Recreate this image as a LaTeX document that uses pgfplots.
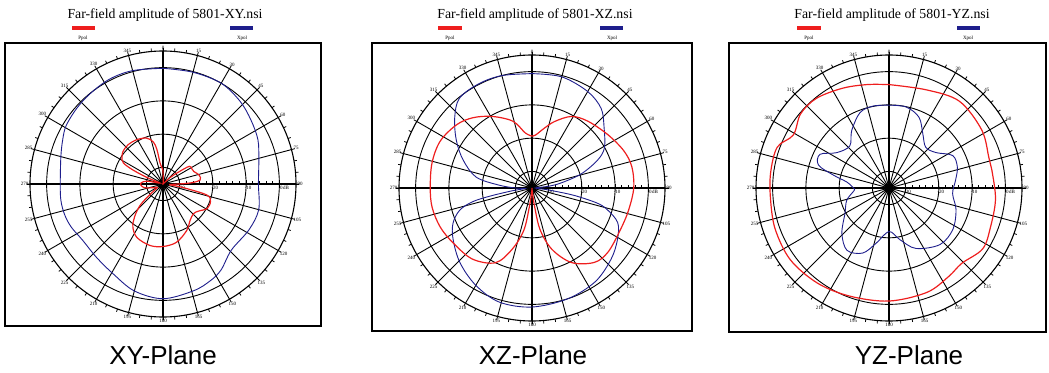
\documentclass[border=0pt]{standalone}
\usepackage{pgfplots}
\pgfplotsset{compat=1.18}
\usepgfplotslibrary{polar}
\usepackage{fontspec}
\setmainfont{Liberation Serif}
\newfontfamily\arial{Liberation Sans}
\definecolor{ppol}{RGB}{238,30,30}
\definecolor{xpol}{RGB}{30,30,140}
\pgfplotsset{
  farfield/.style={
    width=266pt, height=266pt, scale only axis,
    anchor=center,
    xmin=0, xmax=360, ymin=0, ymax=40,
    xtick={0,15,...,345},
    xticklabels={90,75,60,45,30,15,0,345,330,315,300,285,270,255,240,225,210,195,180,165,150,135,120,105},
    minor x tick num=2,
    ytick={5,15,25,35},
    yticklabels={-30,-20,-10,\makebox[0pt]{0}\rlap{\,\,dB}},
    minor y tick num=4,
    grid=major,
    major grid style={black, line width=0.9pt},
    axis line style={black, line width=1.1pt},
    tick style={black, line width=0.8pt},
    major tick length=3.5pt, minor tick length=3pt,
    xticklabel style={font=\fontsize{5}{6}\selectfont, inner sep=1.5pt},
    yticklabel style={font=\fontsize{5}{6}\selectfont, anchor=north, yshift=-1pt, xshift=2pt, inner sep=1pt},
    x filter/.expression={90-x},
    y filter/.expression={y+35},
    extra x ticks={0,90,180,270},
    extra x tick labels={},
    extra x tick style={grid=major, major grid style={black, line width=1.4pt}},
  },
  ppolstyle/.style={ppol, line width=1.2pt, smooth, tension=0.55, no markers},
  xpolstyle/.style={xpol, line width=0.9pt, smooth, tension=0.55, no markers},
}
\begin{document}
\begin{tikzpicture}
\path (0pt,0pt) rectangle (1049pt,372pt);
% frames
\draw[line width=1.2pt] (5pt,46pt) rectangle (321pt,329pt);
\draw[line width=1.2pt] (372pt,41pt) rectangle (692pt,329pt);
\draw[line width=1.2pt] (729pt,40pt) rectangle (1046pt,329pt);
% titles
\node[font=\fontsize{13.8}{16}\selectfont] at (165pt,357pt) {Far-field amplitude of 5801-XY.nsi};
\node[font=\fontsize{13.8}{16}\selectfont] at (535pt,357pt) {Far-field amplitude of 5801-XZ.nsi};
\node[font=\fontsize{13.8}{16}\selectfont] at (892pt,357pt) {Far-field amplitude of 5801-YZ.nsi};
% legends
\draw[ppol, line width=3.5pt] (72pt,344pt) -- (95pt,344pt);
\draw[xpol, line width=3.5pt] (230pt,344pt) -- (253pt,344pt);
\node[font=\fontsize{5}{6}\selectfont] at (83pt,334pt) {Ppol};
\node[font=\fontsize{5}{6}\selectfont] at (242pt,334pt) {Xpol};
\draw[ppol, line width=3.5pt] (438pt,344pt) -- (462pt,344pt);
\draw[xpol, line width=3.5pt] (600pt,344pt) -- (623pt,344pt);
\node[font=\fontsize{5}{6}\selectfont] at (450pt,334pt) {Ppol};
\node[font=\fontsize{5}{6}\selectfont] at (612pt,334pt) {Xpol};
\draw[ppol, line width=3.5pt] (797pt,344pt) -- (821pt,344pt);
\draw[xpol, line width=3.5pt] (957pt,344pt) -- (980pt,344pt);
\node[font=\fontsize{5}{6}\selectfont] at (809pt,334pt) {Ppol};
\node[font=\fontsize{5}{6}\selectfont] at (968pt,334pt) {Xpol};
% captions
\node[font=\arial\fontsize{26}{30}\selectfont] at (163pt,17pt) {XY-Plane};
\node[font=\arial\fontsize{26}{30}\selectfont] at (533pt,17pt) {XZ-Plane};
\node[font=\arial\fontsize{26}{30}\selectfont] at (909pt,17pt) {YZ-Plane};

% ---------- XY ----------
\begin{polaraxis}[farfield, at={(163pt,188pt)}]
\addplot[xpolstyle] coordinates {
(0,-0.2) (15,-0.2) (30,0) (43,-1) (54,-2.3) (65,-3.5) (76,-5.3) (90,-6.3)
(105,-5.2) (118,-5.7) (134,-6.4) (146,-3.8) (154,-2.6) (164,-1.6) (180,-0.5)
(195,-1.7) (209,-4.1) (222,-5.2) (235,-5.5) (245,-4.5) (253,-4) (261,-3.9)
(270,-4.1) (285,-3.2) (294,-2) (301,-1) (311,-0.5) (321,-0.1) (333,0.4)
(345,0.3) (360,-0.2)};
\addplot[ppolstyle] coordinates {
(0,-31) (5,-34) (10,-35) (40,-35) (48,-32) (52,-29.5) (56,-25.5) (62,-25.2)
(68,-25) (76,-23.8) (84,-23.8) (88,-27) (92,-32) (96,-33) (100,-29)
(104,-21.5) (110,-19.8) (119,-19.8) (127,-21.5) (134,-22.2) (143,-21.4)
(153,-19.3) (167,-17) (180,-16.2) (192,-16.1) (206,-17.1) (215,-19.2)
(221,-22) (227,-25.6) (231,-29.8) (238,-33) (248,-32) (258,-29.5)
(265,-28.5) (272,-28.3) (280,-30) (287,-34) (292,-30) (295,-25)
(298,-21.5) (303,-20.3) (309,-19.5) (318,-19.2) (329,-19.5) (340,-20.3)
(347,-22) (350,-24.5) (352,-28.6) (356,-30) (360,-31)};
\end{polaraxis}

% ---------- XZ ----------
\begin{polaraxis}[farfield, at={(532pt,184pt)}]
\addplot[xpolstyle] coordinates {
(0,-0.6) (15,-0.4) (30,-1.5) (41,-3.3) (50,-6.7) (61,-10.1) (67,-13.6)
(74,-19.6) (80,-26) (84,-30) (90,-34) (96,-31) (98,-28) (100,-22)
(103,-15) (106,-11.5) (112,-7.2) (121,-5) (132,-3) (146,-1) (162,0)
(180,0.8) (196,0.7) (210,-1.2) (224,-3.8) (237,-6.7) (246,-9) (253,-12.3)
(257,-16.7) (259,-22) (262,-29) (266,-33) (270,-30) (275,-25) (281,-17.9)
(292,-12.7) (302,-8.2) (312,-3.7) (321,-0.3) (333,0.2) (345,0) (360,-0.6)};
\addplot[ppolstyle] coordinates {
(0,-19.4) (4,-19) (12,-16.5) (19,-13.8) (29,-10.4) (40,-8.8) (55,-7.1)
(68,-5.2) (78,-4.3) (90,-4.4) (103,-5.2) (115,-5.6) (130,-5.1) (140,-5.8)
(152,-9.6) (162,-15.6) (169,-22.2) (172,-29.3) (176,-34) (180,-35)
(184,-34) (188,-29.3) (191,-22) (198,-15.6) (206,-10) (220,-7.1)
(235,-6.1) (247,-5) (259,-4.4) (270,-4.4) (284,-4) (297,-4) (310,-5.4)
(320,-7.4) (331,-10.4) (344,-14.1) (353,-18.3) (360,-19.4)};
\end{polaraxis}

% ---------- YZ ----------
\begin{polaraxis}[farfield, at={(889pt,184pt)}]
\addplot[ppolstyle] coordinates {
(0,-3.9) (21,-3.4) (39,-1.4) (58,-2.1) (73,-3.6) (80,-3.6) (96,-2.8)
(111,-2.3) (123,-1.4) (136,-3.5) (146,-2.9) (160,-1.6) (180,-1) (200,-0.4)
(217,0.8) (234,1.7) (250,1.4) (264,0.8) (277,0.9) (290,0.8) (299,-2.1)
(310,-0.3) (321,-0.3) (335,-1.9) (348,-3.2) (360,-3.9)};
\addplot[xpolstyle] coordinates {
(0,-10.1) (12,-10.1) (23,-11.9) (32,-15.8) (42,-18.5) (53,-17.3) (63,-13.5)
(73,-13.5) (83,-14.8) (95,-15.8) (108,-13.8) (123,-12.1) (138,-12.1)
(156,-15.1) (168,-19.1) (180,-21.9) (193,-18) (202,-13.9) (214,-12.4)
(226,-15.3) (240,-19.7) (254,-21.8) (266,-24.5) (270,-24.3) (278,-22.2)
(283,-17.9) (288,-12.7) (296,-11.9) (304,-16) (317,-17.7) (327,-14.4)
(339,-10.7) (349,-9.9) (360,-10.1)};
\end{polaraxis}
\end{tikzpicture}
\end{document}
